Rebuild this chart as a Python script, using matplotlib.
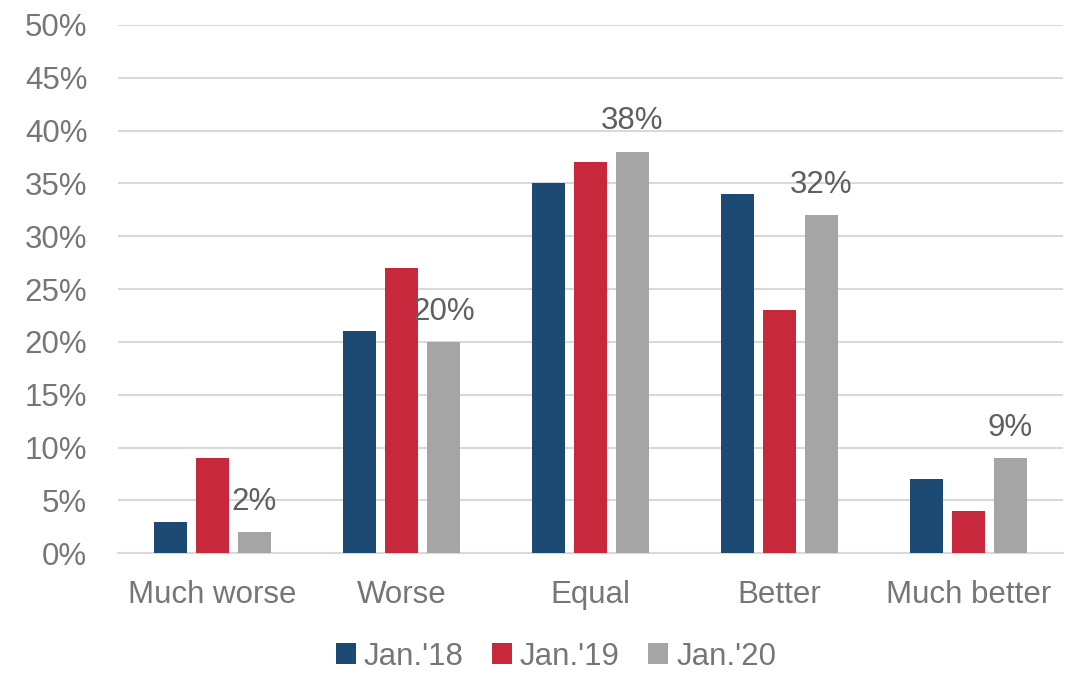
import matplotlib.pyplot as plt
import numpy as np

categories = ["Much worse", "Worse", "Equal", "Better", "Much better"]
series_names = ["Jan.'18", "Jan.'19", "Jan.'20"]
jan18 = [3, 21, 35, 34, 7]
jan19 = [9, 27, 37, 23, 4]
jan20 = [2, 20, 38, 32, 9]
colors = ["#1D4A73", "#C8283C", "#A5A5A5"]
y_ticks = [0, 5, 10, 15, 20, 25, 30, 35, 40, 45, 50]

text_color = "#767676"
grid_color = "#D9D9D9"

plt.rcParams['font.family'] = ['Liberation Sans', 'DejaVu Sans']

fig = plt.figure(figsize=(10.71, 6.73), dpi=100)
ax = fig.add_axes([0.110, 0.178, 0.8825, 0.785])

x = np.arange(len(categories))
width = 0.175
step = 0.222
for i, (vals, name) in enumerate(zip([jan18, jan19, jan20], series_names)):
    ax.bar(x + (i - 1) * step, vals, width, color=colors[i], label=name, zorder=3)

# value labels only on the latest series
for xi, v in zip(x, jan20):
    ax.annotate(f"{v}%", (xi + step, v), xytext=(0, 11), textcoords="offset points",
                ha="center", va="bottom", fontsize=22.5, color="#5F5F5F")

ax.set_xlim(-0.5, len(categories) - 0.5)
ax.set_ylim(0, 50)
ax.set_yticks(y_ticks)
ax.set_yticklabels([f"{t}%" for t in y_ticks])
ax.set_xticks(x)
ax.set_xticklabels(categories)
ax.tick_params(axis="both", length=0, labelsize=22.5, labelcolor=text_color)
ax.tick_params(axis="y", pad=22)
ax.tick_params(axis="x", pad=19)
ax.grid(axis="y", color=grid_color, linewidth=1.5, zorder=0)
for s in ["top", "right", "left"]:
    ax.spines[s].set_visible(False)
ax.spines["bottom"].set_color(grid_color)
ax.spines["bottom"].set_linewidth(1.5)

fig.legend(loc="center", bbox_to_anchor=(0.519, 0.024), ncol=3, frameon=False,
           fontsize=22.5, labelcolor=text_color, handlelength=0.65, handleheight=0.65,
           handletextpad=0.25, columnspacing=0.9)

fig.savefig("out.png", dpi=100)
